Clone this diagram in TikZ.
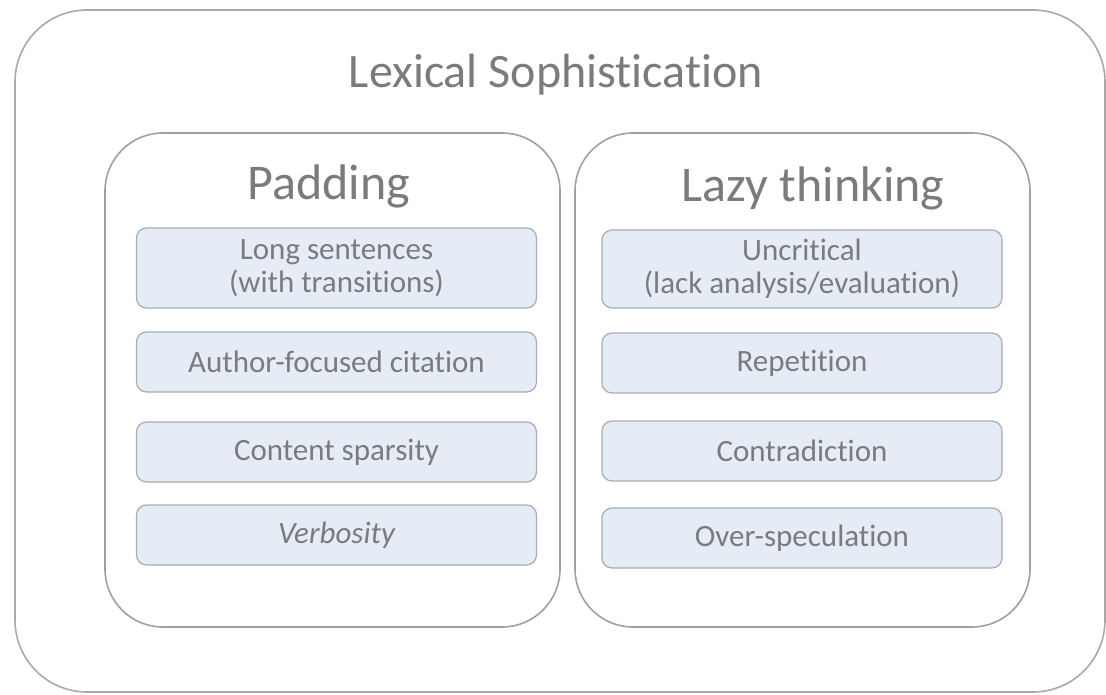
\documentclass[tikz,border=0pt]{standalone}
\usepackage{fontspec}
\setmainfont{Carlito}[Ligatures=NoCommon]
\definecolor{txtgray}{HTML}{7B7B7B}
\definecolor{linegray}{HTML}{A9A9A9}
\definecolor{itemfill}{HTML}{E6ECF5}
\definecolor{itemline}{HTML}{A7ADB6}
\begin{document}
\begin{tikzpicture}[x=1pt, y=-1pt,
	frame/.style = {draw = linegray, line width = 1.6pt, rounded corners = 72pt},
	group/.style = {draw = linegray!110, line width = 1.6pt, rounded corners = 58pt, minimum width = 455pt, minimum height = 494pt},
	heading/.style = {text = txtgray, font = \fontsize{50}{56}\selectfont, anchor = base},
	item/.style = {draw = itemline, fill = itemfill, line width = 1.2pt, rounded corners = 10pt, minimum width = 400pt, text = txtgray, align = center, font = \fontsize{31}{33}\selectfont}]
	\useasboundingbox (0,0) rectangle (1106,695);
	% outer frame and the two groups
	\node [frame, minimum width = 1090pt, minimum height = 682pt] (outer) at (560,351) {};
	\node [heading, font = \fontsize{48}{56}\selectfont] (title) at (556,88) {Lexical Sophistication};
	\node [group] (padding) at (332.5,380) {};
	\node [group] (lazy) at (802.5,380) {};
	\node [heading] (paddingtitle) at (329,200) {Padding};
	\node [heading] (lazytitle) at (813,202) {Lazy thinking};
	% padding items
	\node [item, minimum height = 80pt] (long) at (336.5,268) {Long sentences\\(with transitions)};
	\node [item, minimum height = 60pt] (author) at (336.5,362) {Author-focused citation};
	\node [item, minimum height = 60pt] (sparse) at (336.5,452) {Content sparsity};
	\node [item, minimum height = 60pt] (verbose) at (336.5,535) {\itshape Verbosity};
	% lazy thinking items
	\node [item, minimum height = 78pt] (uncrit) at (802,269) {Uncritical\\(lack analysis/evaluation)};
	\node [item, minimum height = 60pt] (repeat) at (802,363) {Repetition};
	\node [item, minimum height = 60pt] (contra) at (802,451) {Contradiction};
	\node [item, minimum height = 60pt] (overspec) at (802,538) {Over-speculation};
\end{tikzpicture}
\end{document}
